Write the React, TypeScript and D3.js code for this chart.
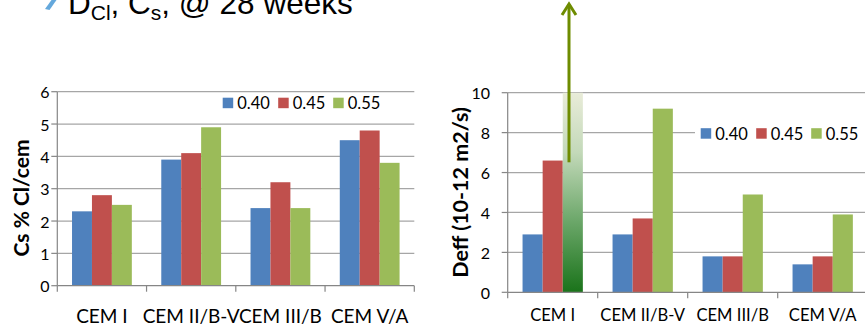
import React from "react";
import * as d3 from "d3";

const categories = ["CEM I", "CEM II/B-V", "CEM III/B", "CEM V/A"];
const seriesNames = ["0.40", "0.45", "0.55"];
const seriesColors = ["#4F81BD", "#C0504D", "#9BBB59"];

// Left chart: Cs % Cl/cem
const cs040 = [2.3, 3.9, 2.4, 4.5];
const cs045 = [2.8, 4.1, 3.2, 4.8];
const cs055 = [2.5, 4.9, 2.4, 3.8];
const csTicks = [0, 1, 2, 3, 4, 5, 6];

// Right chart: Deff (10-12 m2/s); CEM I 0.55 exceeds scale (drawn to top)
const deff040 = [2.9, 2.9, 1.8, 1.4];
const deff045 = [6.6, 3.7, 1.8, 1.8];
const deff055 = [10, 9.2, 4.9, 3.9];
const deffTicks = [0, 2, 4, 6, 8, 10];

const FONT = "Lato, 'Open Sans', sans-serif";

type ChartProps = {
  x0: number; x1: number; yTop: number; yBot: number; ymax: number;
  ticks: number[]; data: number[][]; yLabel: string; yLabelX: number; yLabelY: number;
  yLabelSize: number; tickLabelX: number; catSize: number; legendX: number; legendY: number;
  legendBox?: [number, number, number, number]; gridRight: number; gradientOverflow?: boolean;
};

function Chart(p: ChartProps) {
  const x = d3.scaleBand().domain(categories).range([p.x0, p.x1]).paddingInner(0).paddingOuter(0);
  const bw = x.bandwidth();
  const groupW = bw * 0.67;
  const xs = d3.scaleBand().domain(seriesNames).range([(bw - groupW) / 2, (bw + groupW) / 2]);
  const y = d3.scaleLinear().domain([0, p.ymax]).range([p.yBot, p.yTop]);
  const bounds = [...categories.map((c) => x(c) as number), p.x1];
  const legendSpacing = [0, 55.5, 110.5];
  return (
    <g>
      {p.ticks.map((t) => (
        <g key={t}>
          {t > 0 && (
            <line x1={p.x0} x2={p.gridRight} y1={y(t)} y2={y(t)} stroke="#a6a6a6" strokeWidth={1.2} />
          )}
          <line x1={p.x0 - 6} x2={p.x0} y1={y(t)} y2={y(t)} stroke="#868686" strokeWidth={1.2} />
          <text x={p.tickLabelX} y={y(t)} textAnchor="end" dominantBaseline="central" fontSize={16} fill="#000" fontFamily={FONT}>
            {t}
          </text>
        </g>
      ))}
      {categories.map((c, i) =>
        seriesNames.map((s, j) => {
          const v = p.data[j][i];
          const isGrad = p.gradientOverflow && i === 0 && j === 2;
          return (
            <rect
              key={c + s}
              x={(x(c) as number) + (xs(s) as number)}
              y={y(v)}
              width={xs.bandwidth()}
              height={y(0) - y(v)}
              fill={isGrad ? "url(#overflowGrad)" : seriesColors[j]}
            />
          );
        })
      )}
      <line x1={p.x0} x2={p.x0} y1={p.yTop} y2={p.yBot} stroke="#868686" strokeWidth={1.2} />
      <line x1={p.x0} x2={p.gridRight} y1={p.yBot} y2={p.yBot} stroke="#868686" strokeWidth={1.2} />
      {bounds.map((b, i) => (
        <line key={i} x1={b} x2={b} y1={p.yBot} y2={p.yBot + 6} stroke="#868686" strokeWidth={1.2} />
      ))}
      {categories.map((c) => (
        <text key={c} x={(x(c) as number) + bw / 2} y={315} textAnchor="middle" dominantBaseline="central" fontSize={p.catSize} fontFamily={FONT} fill="#000">
          {c}
        </text>
      ))}
      <text
        transform={`translate(${p.yLabelX},${p.yLabelY}) rotate(-90)`}
        textAnchor="middle"
        dominantBaseline="central"
        fontSize={p.yLabelSize}
        fontWeight="bold"
        fontFamily={FONT}
        fill="#000"
      >
        {p.yLabel}
      </text>
      {p.legendBox && (
        <rect x={p.legendBox[0]} y={p.legendBox[1]} width={p.legendBox[2]} height={p.legendBox[3]} fill="#fff" />
      )}
      {seriesNames.map((s, j) => (
        <g key={s} transform={`translate(${p.legendX + legendSpacing[j]},${p.legendY})`}>
          <rect x={0} y={-5.3} width={10.5} height={10.5} fill={seriesColors[j]} />
          <text x={14.5} y={0} dominantBaseline="central" fontSize={16.5} fontFamily={FONT} fill="#000">
            {s}
          </text>
        </g>
      ))}
    </g>
  );
}

export default function App() {
  return (
    <svg width={865} height={329} style={{ position: "absolute", left: 0, top: 0, background: "#fff" }}>
      <defs>
        <linearGradient id="overflowGrad" x1="0" y1="0" x2="0" y2="1">
          <stop offset="0" stopColor="#e9ecd9" />
          <stop offset="0.3" stopColor="#c3d9b9" />
          <stop offset="0.65" stopColor="#6aa668" />
          <stop offset="1" stopColor="#1a731a" />
        </linearGradient>
      </defs>
      <rect width={865} height={329} fill="#fff" />
      {/* Title (cut off at the top edge, as in the source slide) */}
      <polygon points="51.5,0 56.5,0 49.5,10 45,9" fill="#64a8dc" />
      <text x={68} y={13.5} fontSize={31.5} fontFamily="'Liberation Sans', Arial, sans-serif" fill="#000">
        D<tspan fontSize={21} dy={6}>Cl</tspan>
        <tspan dy={-6}>, C</tspan>
        <tspan fontSize={21} dy={6}>s</tspan>
        <tspan dy={-6}>, @ 28 weeks</tspan>
      </text>
      <Chart
        x0={57.3} x1={414.3} yTop={91.7} yBot={285.7} ymax={6} ticks={csTicks}
        data={[cs040, cs045, cs055]} yLabel="Cs % Cl/cem" yLabelX={20} yLabelY={198}
        yLabelSize={21} tickLabelX={49.5} catSize={19} legendX={222.7} legendY={103}
        legendBox={[218, 93, 166, 20]} gridRight={414.3}
      />
      <Chart
        x0={507.7} x1={867.7} yTop={92.7} yBot={292.3} ymax={10} ticks={deffTicks}
        data={[deff040, deff045, deff055]} yLabel="Deff (10-12 m2/s)" yLabelX={459.5} yLabelY={192.5}
        yLabelSize={21.5} tickLabelX={490} catSize={16.6} legendX={700.7} legendY={133.5}
        legendBox={[695, 122, 170, 23]} gridRight={865} gradientOverflow
      />
      {/* Overflow arrow */}
      <g stroke="#6e8c00" strokeWidth={3} fill="none">
        <line x1={569} x2={569} y1={162.3} y2={4} />
        <polyline points="562,15 569,4 576,15" strokeLinejoin="miter" />
      </g>
    </svg>
  );
}
